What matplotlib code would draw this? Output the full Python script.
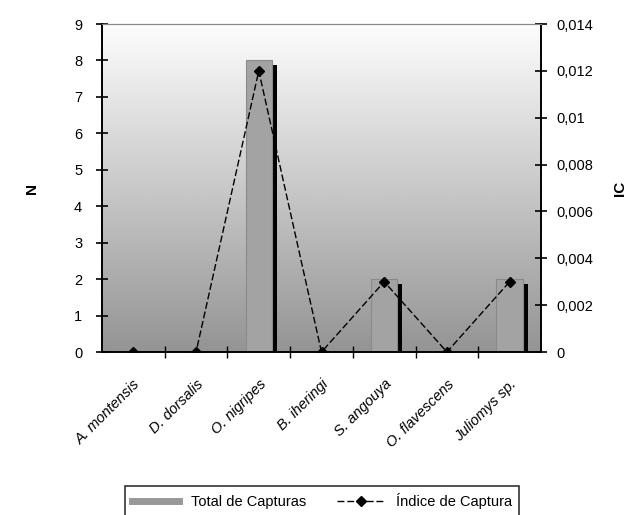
import numpy as np
import matplotlib
matplotlib.use("Agg")
import matplotlib.pyplot as plt
from matplotlib import patheffects as pe
from matplotlib.lines import Line2D
from matplotlib.transforms import ScaledTranslation

plt.rcParams['font.family'] = ['Liberation Sans', 'DejaVu Sans']

species = ["A. montensis", "D. dorsalis", "O. nigripes", "B. iheringi",
           "S. angouya", "O. flavescens", "Juliomys sp."]
total_capturas = [0, 0, 8, 0, 2, 0, 2]
indice_captura = [0, 0, 0.012, 0, 0.003, 0, 0.003]
n_ticks = list(range(0, 10))
ic_ticks = [0, 0.002, 0.004, 0.006, 0.008, 0.01, 0.012, 0.014]

fig = plt.figure(figsize=(6.29, 5.15), dpi=100)
ax = fig.add_axes([102/629, 1-352/515, (541-102)/629, (352-24)/515])
x = np.arange(len(species))

# gradient background
grad = np.linspace(0.99, 0.58, 256).reshape(-1, 1)
ax.imshow(grad, cmap='gray', vmin=0, vmax=1, extent=[0, 1, 0, 1],
          transform=ax.transAxes, aspect='auto', zorder=0, interpolation='bicubic')

bars = ax.bar(x, total_capturas, width=0.42, color='#a3a3a3', edgecolor='#8a8a8a',
              linewidth=0.8, zorder=2)
for b in bars:
    b.set_path_effects([pe.SimplePatchShadow(offset=(3.6, -3.6), shadow_rgbFace='black', alpha=1.0),
                        pe.Normal()])

ax.set_xlim(-0.5, len(species)-0.5)
ax.set_ylim(0, 9)
ax.set_yticks(n_ticks)
ax.set_xticks(x)
ax.set_xticklabels(species, rotation=45, ha='right', rotation_mode='anchor',
                   fontstyle='italic', fontsize=10.5)
off = ScaledTranslation(-7/100, 0, fig.dpi_scale_trans)
for lab in ax.get_xticklabels():
    lab.set_transform(lab.get_transform() + off)
ax.set_xticks(np.arange(0.5, len(species)-0.5, 1), minor=True)
ax.tick_params(axis='x', which='major', length=0, pad=18)
ax.tick_params(axis='x', which='minor', direction='inout', length=8, width=1)
ax.tick_params(axis='y', direction='inout', length=8.5, width=1.2, labelsize=10.5, pad=10)
ax.set_ylabel("N", fontsize=11, fontweight='bold', labelpad=25)

ax2 = ax.twinx()
ax2.plot(x, indice_captura, color='black', lw=1, linestyle=(0, (5, 2)),
         marker='D', markersize=5, zorder=3)
ax2.set_ylim(0, 0.014)
ax2.set_yticks(ic_ticks)
ax2.set_yticklabels([f"{v:g}".replace('.', ',') for v in ic_ticks])
ax2.tick_params(axis='y', direction='inout', length=8.5, width=1.2, labelsize=10.5, pad=7)
ax2.set_ylabel("IC", fontsize=11, fontweight='bold', rotation=90, labelpad=14)

for a in (ax, ax2):
    a.spines['top'].set_color('#888888')
    a.spines['left'].set_linewidth(1.2)
    a.spines['right'].set_linewidth(1.2)
    a.spines['bottom'].set_linewidth(1.2)

handles = [Line2D([0], [0], color='#999999', lw=5),
           Line2D([0], [0], color='black', lw=1, linestyle=(0, (5, 2)), marker='D', markersize=5)]
leg = fig.legend(handles, ["Total de Capturas", "Índice de Captura"], ncol=2,
                 loc='upper left', bbox_to_anchor=(125/629, 1-486/515, 394/629, 0),
                 mode='expand', fontsize=10.5,
                 frameon=True, fancybox=False, edgecolor='black', borderpad=0.5,
                 handlelength=3.2, borderaxespad=0)
leg.get_frame().set_linewidth(1.2)

fig.savefig("out.png", dpi=100)
